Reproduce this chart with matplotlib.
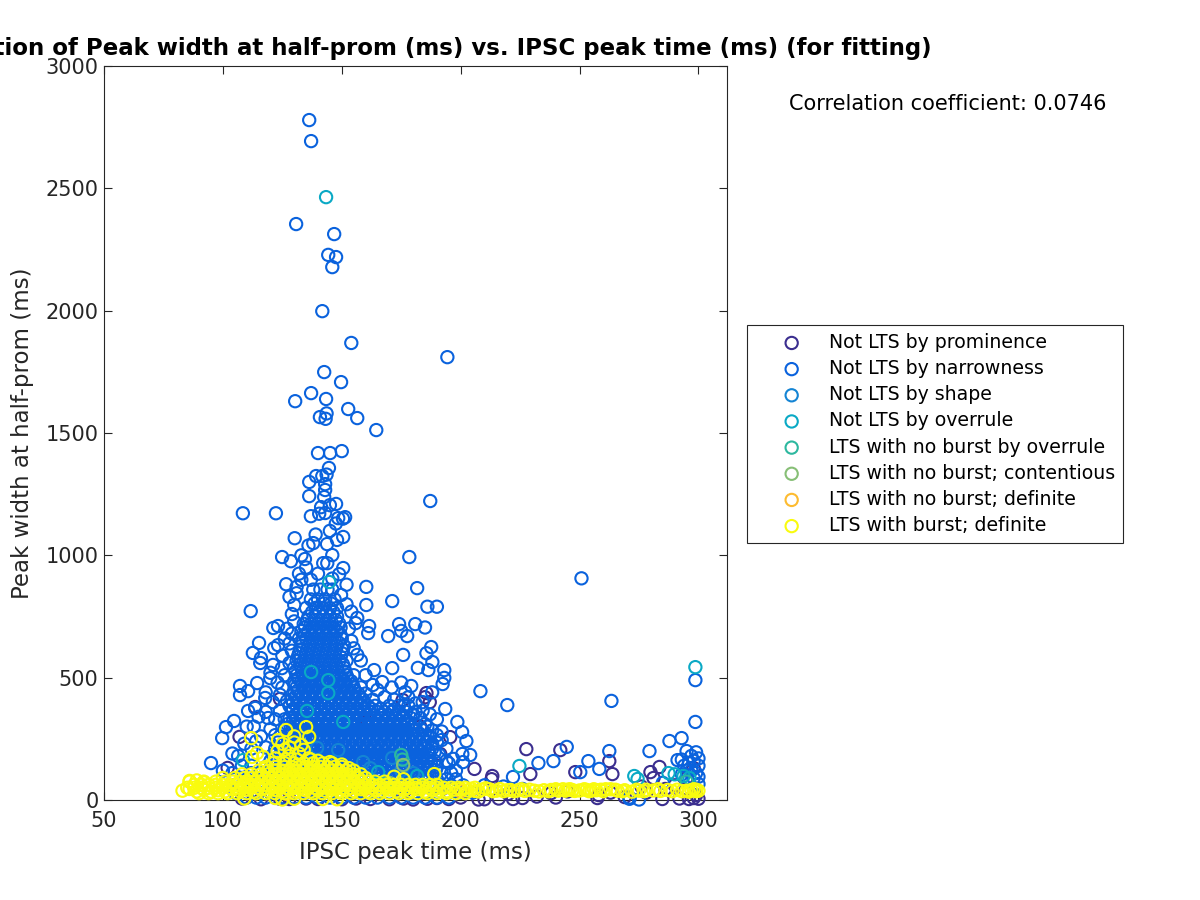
import numpy as np
import matplotlib
matplotlib.use('Agg')
import matplotlib.pyplot as plt

# Categorias de la leyenda
labels = ['Not LTS by prominence', 'Not LTS by narrowness', 'Not LTS by shape', 'Not LTS by overrule',
          'LTS with no burst by overrule', 'LTS with no burst; contentious', 'LTS with no burst; definite',
          'LTS with burst; definite']
colors = ['#3b2e8f', '#0a62dd', '#1484d4', '#0aa9c5', '#2db89f', '#87bf76', '#fdbb30', '#f9fb0e']

# Puntos sueltos (tiempo de pico, ancho)
prominence_pts = [(227.6, 208), (241.9, 204), (262.5, 159), (263.8, 106), (248.2, 114), (229.3, 106), (213.3, 98),
                  (213, 85), (205.8, 127), (279.8, 114), (283.6, 135), (281.1, 90), (284.8, 4), (257.5, 8), (207.5, 2),
                  (185.6, 437), (191.4, 188), (195.6, 257), (102, 131), (107, 258), (113.6, 380), (124, 413),
                  (175.6, 409), (160.6, 319), (185, 420), (187, 400), (183, 300), (108, 6), (116, 3), (124, 5),
                  (128, 4), (135, 6), (140, 4), (150, 3), (156, 6), (162, 4), (170, 3), (176, 6), (180, 2), (186, 5),
                  (190, 8), (195, 4), (200, 10), (210, 3), (216, 6), (222, 4), (226, 8), (232, 14), (240, 10),
                  (258, 20), (263, 30), (269, 12), (278, 30), (292, 6), (296, 4), (298, 8), (300, 5), (299, 20),
                  (290, 60), (295, 90), (298, 130), (286, 45), (276, 55), (245, 35), (238, 28), (220, 25)]

narrow_sparse = [(136.3, 2779), (137.1, 2693), (130.8, 2354), (146.8, 2313), (144.3, 2228), (147.6, 2219), (146, 2178),
                 (141.8, 1998), (154, 1868), (142.6, 1749), (194.4, 1810), (149.7, 1708), (137.1, 1663), (130.4, 1630),
                 (143.4, 1639), (152.7, 1598), (156.5, 1561), (143.6, 1580), (143.2, 1558), (140.8, 1565), (164.5, 1512),
                 (150, 1426), (140, 1418), (145.1, 1418), (144.6, 1357), (143.6, 1330), (141.8, 1324), (143, 1291),
                 (143, 1267), (142.6, 1238), (136.3, 1300), (136.3, 1242), (139.2, 1324), (147.6, 1210), (141.3, 1197),
                 (143, 1173), (187.2, 1222), (145, 1205), (150.5, 1150), (147.5, 1130), (137, 1160), (140.5, 1170),
                 (108.4, 1172), (122.3, 1172), (130.2, 1070), (124.9, 993), (128.6, 976), (126.6, 882), (131, 871),
                 (130, 797), (111.7, 772), (121.2, 703), (123.2, 711), (115.2, 642), (112.6, 601), (116, 580),
                 (115.7, 560), (121.6, 621), (123.2, 633), (121.1, 552), (124.8, 539), (119.9, 498), (107.2, 466),
                 (107.2, 429), (110.6, 445), (114.4, 478), (117.8, 417), (110.6, 364), (113.6, 376), (104.7, 323),
                 (101.3, 298), (99.7, 253), (95, 151), (106.4, 180), (160.3, 871), (160.3, 797), (171.2, 813),
                 (178.4, 993), (181.7, 866), (156.5, 744), (155.8, 723), (161.5, 711), (161.1, 682), (169.5, 670),
                 (174.1, 719), (175, 691), (177.5, 670), (180.9, 719), (175.8, 593), (171.2, 539), (167, 482),
                 (163.6, 531), (156.5, 593), (179.2, 466), (176.7, 441), (150.6, 948), (148.9, 923), (149.7, 838),
                 (146, 1001), (143.9, 968), (142.2, 968), (143.8, 1046), (150.6, 1075), (148, 1063), (151.4, 1156),
                 (148.5, 1152), (138, 1050), (136, 1040), (133, 1000), (134.5, 985), (135, 950), (132, 925), (139, 1085),
                 (145, 1100), (208.3, 445), (219.6, 388), (263.4, 405), (250.8, 906), (298.7, 490), (298.7, 319),
                 (287.8, 241), (292.9, 253), (279.4, 200), (262.5, 200), (244.6, 217), (239, 159), (232.7, 151),
                 (253.7, 159), (258.3, 127), (250.3, 114), (222, 94), (291.2, 163), (198.6, 319), (200.6, 278),
                 (202.4, 241), (204, 184), (200.7, 188), (196.9, 168), (201, 155), (193.5, 372), (193.1, 531),
                 (193.1, 499), (192.4, 474), (188.1, 564), (186.4, 531), (187.6, 625), (185.6, 600), (186, 790),
                 (190, 790), (185, 705), (182, 540), (188, 440), (184, 400), (190, 330), (186, 300), (192, 280),
                 (188, 230), (194, 210), (118, 360), (122, 330), (120, 290), (116, 260), (112, 210), (108, 140),
                 (104, 110), (113, 300), (118, 440), (125, 460), (125, 590), (128, 640), (127, 700), (129, 680),
                 (295, 200), (297, 180), (299, 195), (300, 170), (296, 150), (298, 160), (294, 140), (300, 140),
                 (297, 120), (299, 110), (295, 120), (300, 95), (298, 90), (293, 165), (300, 65), (293, 105),
                 (271, 5), (275, 2), (226, 45), (210, 60), (218, 55), (285, 70)]
# Anillos alrededor de la nube, a ambos lados
narrow_flank = [(120, 520), (123, 480), (126, 510), (128, 560), (124, 430), (121, 400), (127, 405), (119, 335),
                (124, 365), (126, 330), (115, 340), (110, 300), (114, 240), (118, 215), (122, 265), (126, 295),
                (104, 190), (109, 230), (100, 120), (112, 140), (129, 610), (126, 660), (130, 730), (129, 760),
                (128, 830), (133, 900), (131, 845), (137, 900), (140, 925), (146, 905), (152, 880), (152, 800),
                (154, 770), (153, 700), (154, 650), (155, 620), (158, 570), (160, 510), (165, 450), (168, 420),
                (171, 460), (175, 480), (163, 470), (178, 420), (181, 395), (184, 365), (187, 350), (180, 350),
                (176, 385), (172, 370), (190, 265), (192, 245), (186, 265), (189, 195), (195, 150), (198, 120)]

# Nube densa de 'narrowness': (ancho, tiempos de pico) por filas
narrow_y0 = [860, 820, 785, 750, 720, 690, 660, 630, 600, 570, 540, 510, 485, 460, 435, 410, 385, 360]
narrow_x0 = [[138, 141, 144, 146], [137, 140, 143, 147], [135, 139, 142, 145, 148], [136, 139, 142, 145, 148],
             [134, 137, 140, 143, 146, 149], [133, 136, 139, 142, 145, 148], [132, 135, 138, 141, 144, 147, 150],
             [133, 136, 139, 142, 145, 148, 151], [132, 135, 138, 141, 144, 147, 150],
             [131, 134, 137, 140, 143, 146, 149, 152], [130, 133, 136, 139, 142, 145, 148, 151],
             [131, 134, 137, 140, 143, 146, 149, 152, 155], [130, 133, 136, 139, 142, 145, 148, 151, 154],
             [131, 134, 137, 140, 143, 146, 149, 152, 155, 158], [130, 133, 136, 139, 142, 145, 148, 151, 154, 157, 160],
             [129, 132, 135, 138, 141, 144, 147, 150, 153, 156, 159, 163, 172],
             [128, 131, 134, 137, 140, 143, 146, 149, 152, 155, 158, 161, 164, 170, 174, 178],
             [129, 132, 135, 138, 141, 144, 147, 150, 153, 156, 159, 162, 165, 168, 171, 174, 177, 181]]
narrow_y1 = [335, 310, 285, 260, 235, 210, 185, 160, 135, 110, 85, 60, 30, 10]
narrow_x1 = [[128, 131, 134, 137, 140, 143, 146, 149, 152, 155, 158, 161, 164, 167, 170, 173, 176, 179, 183],
             [127, 130, 133, 136, 139, 142, 145, 148, 151, 154, 157, 160, 163, 166, 169, 172, 175, 178, 181, 185],
             [126, 129, 132, 135, 138, 141, 144, 147, 150, 153, 156, 159, 162, 165, 168, 171, 174, 177, 180, 184, 188],
             [124, 127, 130, 133, 136, 139, 142, 145, 148, 151, 154, 157, 160, 163, 166, 169, 172, 175, 178, 181, 184, 187],
             [123, 126, 129, 132, 135, 138, 141, 144, 147, 150, 153, 156, 159, 162, 165, 168, 171, 174, 177, 180, 183, 186, 190],
             [122, 125, 128, 131, 134, 137, 140, 143, 146, 149, 152, 155, 158, 161, 164, 167, 170, 173, 176, 179, 182, 185, 188],
             [121, 124, 127, 130, 133, 136, 139, 142, 145, 148, 151, 154, 157, 160, 163, 166, 169, 172, 175, 178, 181, 184, 187, 191],
             [120, 123, 126, 129, 132, 135, 138, 141, 144, 147, 150, 153, 156, 159, 162, 165, 168, 171, 174, 177, 180, 183, 186, 189, 194],
             [118, 121, 124, 127, 130, 133, 136, 139, 142, 145, 148, 151, 154, 157, 160, 163, 166, 169, 172, 175, 178, 181, 184, 187, 190],
             [112, 116, 119, 122, 125, 128, 131, 134, 137, 140, 143, 146, 149, 152, 155, 158, 161, 164, 167, 170, 173, 176, 179, 182, 185, 188, 192, 196],
             [105, 110, 114, 118, 122, 126, 130, 134, 138, 142, 146, 150, 154, 158, 162, 166, 170, 174, 178, 182, 186, 190, 194, 198],
             [108, 112, 116, 120, 124, 128, 132, 136, 140, 144, 148, 152, 156, 160, 164, 168, 172, 176, 180, 184, 188, 192, 196, 201],
             [105, 110, 115, 120, 125, 130, 135, 140, 145, 150, 155, 160, 165, 170, 175, 180, 185, 190, 195, 200, 205],
             [110, 114, 118, 122, 126, 130, 135, 140, 145, 150, 155, 160, 165, 170, 175, 180, 185, 190, 195, 271]]
# Filas intermedias, donde la nube es casi solida
narrow_y2 = [803, 768, 735, 705, 675, 645, 615, 585, 555, 525, 497, 472, 447, 422, 397, 372, 347, 322, 297, 272, 247, 222, 197, 172, 147, 122]
narrow_x2 = [[138.5, 142.5, 145.5], [137.5, 140.5, 143.5, 146.5], [135.5, 138.5, 141.5, 144.5, 147.5],
             [134.5, 137.5, 140.5, 143.5, 146.5, 149.5], [134.5, 137.5, 140.5, 143.5, 146.5, 149.5],
             [133.5, 136.5, 139.5, 142.5, 145.5, 148.5], [132.5, 135.5, 138.5, 141.5, 144.5, 147.5, 150.5],
             [131.5, 134.5, 137.5, 140.5, 143.5, 146.5, 149.5], [132.5, 135.5, 138.5, 141.5, 144.5, 147.5, 150.5],
             [130.5, 133.5, 136.5, 139.5, 142.5, 145.5, 148.5, 151.5], [131.5, 134.5, 137.5, 140.5, 143.5, 146.5, 149.5, 152.5],
             [130.5, 133.5, 136.5, 139.5, 142.5, 145.5, 148.5, 151.5, 154.5], [131.5, 134.5, 137.5, 140.5, 143.5, 146.5, 149.5, 152.5, 155.5],
             [130.5, 133.5, 136.5, 139.5, 142.5, 145.5, 148.5, 151.5, 154.5, 157.5], [129.5, 132.5, 135.5, 138.5, 141.5, 144.5, 147.5, 150.5, 153.5, 156.5, 159.5],
             [129.5, 132.5, 135.5, 138.5, 141.5, 144.5, 147.5, 150.5, 153.5, 156.5, 159.5, 162.5, 166.5],
             [130.5, 133.5, 136.5, 139.5, 142.5, 145.5, 148.5, 151.5, 154.5, 157.5, 160.5, 163.5, 166.5, 169.5, 172.5, 175.5],
             [129.5, 132.5, 135.5, 138.5, 141.5, 144.5, 147.5, 150.5, 153.5, 156.5, 159.5, 162.5, 165.5, 168.5, 171.5, 174.5, 177.5],
             [128.5, 131.5, 134.5, 137.5, 140.5, 143.5, 146.5, 149.5, 152.5, 155.5, 158.5, 161.5, 164.5, 167.5, 170.5, 173.5, 176.5, 179.5],
             [128.5, 131.5, 134.5, 137.5, 140.5, 143.5, 146.5, 149.5, 152.5, 155.5, 158.5, 161.5, 164.5, 167.5, 170.5, 173.5, 176.5, 179.5, 182.5],
             [127.5, 130.5, 133.5, 136.5, 139.5, 142.5, 145.5, 148.5, 151.5, 154.5, 157.5, 160.5, 163.5, 166.5, 169.5, 172.5, 175.5, 178.5, 181.5, 184.5],
             [127.5, 130.5, 133.5, 136.5, 139.5, 142.5, 145.5, 148.5, 151.5, 154.5, 157.5, 160.5, 163.5, 166.5, 169.5, 172.5, 175.5, 178.5, 181.5, 184.5],
             [126.5, 129.5, 132.5, 135.5, 138.5, 141.5, 144.5, 147.5, 150.5, 153.5, 156.5, 159.5, 162.5, 165.5, 168.5, 171.5, 174.5, 177.5, 180.5, 183.5, 186.5],
             [126.5, 129.5, 132.5, 135.5, 138.5, 141.5, 144.5, 147.5, 150.5, 153.5, 156.5, 159.5, 162.5, 165.5, 168.5, 171.5, 174.5, 177.5, 180.5, 183.5, 186.5],
             [124.5, 127.5, 130.5, 133.5, 136.5, 139.5, 142.5, 145.5, 148.5, 151.5, 154.5, 157.5, 160.5, 163.5, 166.5, 169.5, 172.5, 175.5, 178.5, 181.5, 184.5, 187.5],
             [120.5, 123.5, 126.5, 129.5, 132.5, 135.5, 138.5, 141.5, 144.5, 147.5, 150.5, 153.5, 156.5, 159.5, 162.5, 165.5, 168.5, 171.5, 174.5, 177.5, 180.5, 183.5, 186.5, 189.5]]

shape_pts = [(148.5, 204), (139.6, 213), (159, 155), (171.2, 172), (137, 150), (146, 120), (155, 95), (162, 130),
             (175, 120), (180, 110)]
overrule_pts = [(143.4, 2464), (144.7, 891), (137.1, 523), (144.3, 490), (144.3, 437), (135.4, 364), (150.6, 319),
                (165.3, 114), (108.5, 163), (224.7, 139), (273, 98), (274.4, 86), (287.4, 110), (293.7, 98),
                (296.2, 90), (298.7, 543), (181.7, 98), (290, 105)]
no_burst_overrule_pts = [(175, 184), (175.5, 165), (151, 60), (168, 65), (130, 90), (295, 75)]
contentious_pts = [(175.8, 143), (170, 70), (158, 80), (185, 55), (125, 75), (189, 45)]
no_burst_def_pts = [(127, 25), (135, 40), (145, 55), (160, 45), (178, 30), (200, 35)]

burst_pts = [(135, 298), (136.3, 258), (126.6, 286), (123.2, 245), (111.9, 253), (114.4, 192), (117, 176), (112.3, 176),
             (125, 230), (130, 260), (128, 215), (123, 200), (133, 225), (122, 170), (128, 180), (132, 190), (136, 170),
             (126, 205), (130, 235), (134, 205), (140, 160), (145, 155), (150, 145), (153, 130), (172, 95), (176, 85),
             (188.9, 106), (86, 78), (89, 80), (92, 72), (109, 6), (122, 8), (125, 2), (130, 5), (142, 4), (148, 3)]
band_x = [83, 86, 89, 92, 95, 98, 101, 104, 107, 110, 113, 116, 119, 122, 125, 128, 131, 134, 137, 140, 143, 146,
          149, 152, 155, 158, 161, 164, 167, 170, 173, 176, 179, 182, 185, 188, 191, 194, 197, 200, 203, 206, 209,
          212, 215, 218, 221, 224, 227, 231, 235, 238, 241, 243, 245, 247, 250, 253, 255, 257, 260, 263, 266, 269,
          272, 275, 278, 281, 284, 287, 291, 295, 297, 298, 299, 300]
band_y = [38, 45, 35, 42, 34, 40, 36, 44, 37, 42, 35, 43, 38, 41, 36, 44, 37, 42, 35, 40, 38, 43, 36, 41, 37, 44, 35,
          40, 38, 42, 36, 41, 37, 44, 35, 41, 38, 36, 42, 45, 39, 37, 42, 44, 38, 36, 41, 39, 37, 38, 40, 41, 38,
          44, 42, 40, 39, 41, 38, 40, 36, 44, 38, 40, 34, 38, 42, 39, 37, 41, 42, 38, 40, 44, 36, 38]
band_x2 = [204.5, 207.5, 210.5, 213.5, 216.5, 219.5, 222.5, 225.5, 229, 233, 237, 240, 244, 246, 248, 252, 254, 256,
           259, 261, 265, 268, 274, 277, 283, 289, 293, 296, 299]
band_y2 = [46, 35, 48, 36, 45, 40, 36, 44, 42, 35, 36, 44, 38, 44, 37, 44, 36, 44, 42, 44, 42, 36, 42, 36, 44, 36, 36, 34, 42]

# Filas del monticulo amarillo
burst_y = [165, 150, 135, 120, 105, 90, 75, 62, 50, 28]
burst_x = [[126, 131, 137], [121, 126, 130, 134, 138, 142, 146],
           [118, 122, 126, 129, 132, 135, 138, 141, 144, 147, 150],
           [115, 119, 122, 125, 128, 131, 134, 137, 140, 143, 146, 149, 152, 155],
           [108, 112, 116, 119, 122, 125, 128, 131, 134, 137, 140, 143, 146, 149, 152, 155, 158],
           [100, 105, 109, 112, 115, 118, 121, 124, 127, 130, 133, 136, 139, 142, 145, 148, 151, 154, 157, 160],
           [86, 92, 97, 101, 104, 107, 110, 113, 116, 119, 122, 125, 128, 131, 134, 137, 140, 143, 146, 149, 152, 155, 158, 161, 164, 168],
           [88, 91, 94, 97, 100, 103, 106, 109, 112, 115, 118, 121, 124, 127, 130, 133, 136, 139, 142, 145, 148, 151, 154, 157, 160, 163, 166, 169, 172, 175, 178, 181, 184, 187, 190],
           [85, 88, 91, 94, 97, 100, 103, 106, 109, 112, 115, 118, 121, 124, 127, 130, 133, 136, 139, 142, 145, 148, 151, 154, 157, 160, 163, 166, 169, 172, 175, 178, 181, 184, 187, 190, 193, 196, 199, 202, 206],
           [90, 94, 98, 102, 106, 110, 114, 118, 122, 126, 130, 134, 138, 142, 146, 150, 154, 158, 162, 166, 170, 174, 178, 182, 186, 190, 194, 198, 202]]

corr_text = 'Correlation coefficient: 0.0746'
title_text = 'Correlation of Peak width at half-prom (ms) vs. IPSC peak time (ms) (for fitting)'


def split(pts):
    arr = np.array(pts, dtype=float)
    return arr[:, 0], arr[:, 1]


def rows(ys, xs):
    # Se arman los puntos a partir de las filas
    out_x = []
    out_y = []
    for v, fila in zip(ys, xs):
        out_x += fila
        out_y += [v] * len(fila)
    return out_x, out_y


dense_x, dense_y = rows(narrow_y0 + narrow_y1 + narrow_y2, narrow_x0 + narrow_x1 + narrow_x2)
heap_x, heap_y = rows(burst_y, burst_x)
sx, sy = split(narrow_sparse + narrow_flank)
bx, by = split(burst_pts)
series = [split(prominence_pts),
          (np.r_[sx, dense_x], np.r_[sy, dense_y]),
          split(shape_pts),
          split(overrule_pts),
          split(no_burst_overrule_pts),
          split(contentious_pts),
          split(no_burst_def_pts),
          (np.r_[bx, heap_x, band_x, band_x2], np.r_[by, heap_y, band_y, band_y2])]

fig = plt.figure(figsize=(12, 9), dpi=100)
ax = fig.add_axes([104 / 1200, 1 - 800 / 900, 623 / 1200, 734 / 900])

handles = []
for (x, y), lab, col in zip(series, labels, colors):
    h = ax.scatter(x, y, s=78, facecolors='none', edgecolors=col, linewidths=1.5, label=lab, clip_on=False, zorder=3)
    handles.append(h)

ax.set_xlim(50, 312)
ax.set_ylim(0, 3000)
ax.set_xticks([50, 100, 150, 200, 250, 300])
ax.set_yticks([0, 500, 1000, 1500, 2000, 2500, 3000])
ax.tick_params(direction='in', top=True, right=True, length=6, width=0.8, labelsize=15, colors='#262626', pad=4)
ax.tick_params(axis='x', pad=8)
for sp in ax.spines.values():
    sp.set_color('#262626')
    sp.set_linewidth(0.8)
ax.set_xlabel('IPSC peak time (ms)', fontsize=16.5, color='#262626', labelpad=7)
ax.set_ylabel('Peak width at half-prom (ms)', fontsize=16.5, color='#262626', labelpad=8)

fig.text(416 / 1200, 1 - 48 / 900, title_text, fontsize=16.45, fontweight='bold', ha='center', va='center', color='black')
fig.text(948 / 1200, 1 - 104 / 900, corr_text, fontsize=15.05, ha='center', va='center', color='black')

leg = fig.legend(handles=handles, loc='upper left', bbox_to_anchor=(747 / 1200, 1 - 325 / 900), fontsize=13.57,
                 frameon=True, fancybox=False, framealpha=1, edgecolor='#262626', borderaxespad=0, borderpad=0.42,
                 labelspacing=0.38, handletextpad=0.05, handlelength=3.9)
leg.get_frame().set_linewidth(0.8)

plt.savefig('out.png', dpi=100)
